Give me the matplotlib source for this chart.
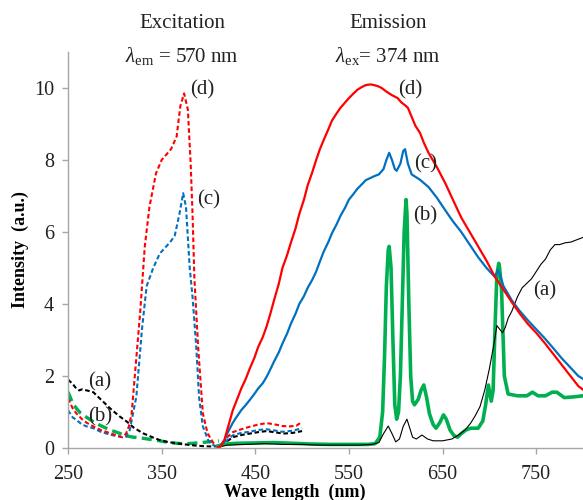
import matplotlib
matplotlib.use("Agg")
import matplotlib.pyplot as plt

plt.rcParams['font.family'] = ['Liberation Serif', 'DejaVu Serif']
plt.rcParams['mathtext.fontset'] = 'custom'
plt.rcParams['mathtext.rm'] = 'Liberation Serif'
plt.rcParams['mathtext.it'] = 'Liberation Serif:italic'

# ---------- Excitation spectra (dashed) ----------
exc_d_x = [250, 255, 259, 265, 270, 277, 285, 295, 302, 308, 312, 315, 318, 321, 327, 332, 337, 344, 350,
           355, 360, 366, 370, 374, 378, 381, 383, 385, 389, 394, 399, 405, 410, 415, 420, 426, 435, 444,
           453, 462, 470, 479, 487, 494, 500]
exc_d_y = [1.38, 1.1, 0.96, 0.8, 0.7, 0.6, 0.5, 0.41, 0.35, 0.3, 0.4, 0.6, 0.96, 1.9, 3.74, 5.6, 6.7, 7.63, 8.0,
           8.15, 8.3, 8.65, 9.5, 9.85, 9.4, 7.9, 6.5, 4.7, 2.8, 0.96, 0.41, 0.15, 0.05, 0.15, 0.3, 0.44, 0.52, 0.59,
           0.65, 0.69, 0.66, 0.61, 0.6, 0.62, 0.73]

exc_c_x = [250, 255, 259, 265, 270, 277, 285, 295, 302, 308, 312, 316, 319, 323, 329, 334, 341, 348, 355,
           360, 364, 369, 373, 376, 380, 383, 387, 390, 394, 400, 405, 410, 415, 420, 426, 435, 444, 453,
           462, 470, 479, 490, 500]
exc_c_y = [1.05, 0.85, 0.78, 0.65, 0.6, 0.55, 0.45, 0.37, 0.33, 0.3, 0.32, 0.5, 0.9, 1.43, 3.3, 4.5, 5.0, 5.4, 5.6,
           5.75, 5.9, 6.5, 7.08, 6.7, 5.0, 4.2, 2.8, 1.4, 0.6, 0.2, 0.08, 0.04, 0.12, 0.22, 0.35, 0.42, 0.45, 0.5,
           0.52, 0.49, 0.45, 0.48, 0.55]

exc_a_x = [250, 255, 258, 262, 265, 270, 277, 285, 295, 305, 313, 320, 330, 340, 348, 356, 366, 375, 385,
           395, 405, 412, 418, 426, 435, 444, 453, 462, 470, 480, 490, 500]
exc_a_y = [1.9, 1.78, 1.68, 1.6, 1.63, 1.6, 1.55, 1.35, 1.1, 0.88, 0.73, 0.57, 0.41, 0.3, 0.22, 0.17, 0.13, 0.1,
           0.07, 0.05, 0.04, 0.06, 0.15, 0.3, 0.36, 0.4, 0.44, 0.47, 0.44, 0.4, 0.42, 0.47]

exc_b_x = [250, 255, 259, 263, 270, 277, 285, 295, 305, 313, 320, 330, 340, 348, 356, 366, 375, 383, 392,
           400, 411]
exc_b_y = [1.56, 1.24, 1.1, 0.98, 0.85, 0.73, 0.62, 0.5, 0.41, 0.33, 0.3, 0.27, 0.23, 0.2, 0.16, 0.13, 0.12, 0.13,
           0.15, 0.17, 0.2]

# ---------- Emission spectra (solid) ----------
em_d_x = [410, 413, 417, 420, 426, 431, 435, 440, 444, 449, 453, 458, 462, 466, 470, 475, 479, 484, 488, 493,
          497, 502, 506, 511, 515, 519, 523, 528, 532, 537, 541, 546, 550, 555, 559, 564, 568, 573, 577,
          581, 585, 590, 596, 602, 606, 610, 613, 617, 621, 626, 630, 635, 644, 653, 661, 670, 679, 688,
          697, 706, 715, 724, 732, 741, 750, 759, 768, 777, 786, 795, 800]
em_d_y = [0.02, 0.05, 0.22, 0.5, 1.05, 1.38, 1.65, 1.93, 2.2, 2.5, 2.8, 3.08, 3.37, 3.72, 4.1, 4.55, 5.0, 5.36,
          5.7, 6.1, 6.5, 6.9, 7.3, 7.67, 8.0, 8.3, 8.55, 8.85, 9.1, 9.3, 9.45, 9.6, 9.72, 9.85, 9.95, 10.03, 10.08,
          10.1, 10.08, 10.05, 10.0, 9.9, 9.8, 9.72, 9.6, 9.52, 9.45, 9.2, 8.95, 8.75, 8.48, 8.2, 7.8, 7.35, 6.9,
          6.4, 6.0, 5.6, 5.2, 4.75, 4.4, 4.05, 3.75, 3.45, 3.2, 2.92, 2.62, 2.32, 2.02, 1.72, 1.62]

em_c_x = [410, 413, 417, 420, 426, 431, 435, 440, 444, 449, 453, 458, 462, 466, 470, 475, 479, 484, 488, 493,
          497, 502, 506, 511, 515, 519, 523, 528, 532, 537, 541, 546, 550, 555, 559, 564, 568, 573, 577,
          582, 587, 590, 593, 596, 599, 601, 605, 608, 610, 613, 617, 626, 635, 644, 653, 661, 670, 679,
          688, 697, 706, 709, 711, 715, 724, 732, 741, 750, 759, 768, 777, 786, 795, 800]
em_c_y = [0.02, 0.05, 0.2, 0.4, 0.7, 0.9, 1.05, 1.2, 1.33, 1.5, 1.65, 1.8, 1.97, 2.18, 2.4, 2.65, 2.9, 3.18,
          3.45, 3.73, 4.0, 4.22, 4.45, 4.68, 4.9, 5.18, 5.45, 5.72, 5.97, 6.22, 6.45, 6.68, 6.9, 7.06, 7.2, 7.33,
          7.44, 7.5, 7.55, 7.6, 7.75, 8.0, 8.2, 8.0, 7.75, 7.7, 7.9, 8.25, 8.3, 7.9, 7.6, 7.45, 7.25, 6.95, 6.6,
          6.3, 6.0, 5.65, 5.3, 5.0, 4.75, 4.95, 4.85, 4.5, 4.1, 3.82, 3.55, 3.3, 3.05, 2.78, 2.5, 2.25, 2.0, 1.92]

em_b_x = [410, 415, 430, 450, 470, 490, 510, 530, 550, 570, 578, 583, 586, 588, 590, 592, 593, 595, 597,
          599, 601, 603, 605, 607, 609, 611, 612, 614, 616, 618, 620, 624, 627, 630, 633, 636, 640, 643,
          647, 651, 654, 658, 662, 666, 670, 675, 680, 688, 693, 696, 699, 702, 704, 706, 708, 710, 711,
          713, 716, 720, 730, 740, 746, 752, 760, 767, 772, 780, 790, 800]
em_b_y = [0.05, 0.1, 0.13, 0.14, 0.15, 0.13, 0.11, 0.1, 0.1, 0.1, 0.12, 0.3, 1.0, 2.5, 4.5, 5.5, 5.6, 5.0, 3.0,
          1.2, 0.8, 1.0, 2.0, 4.0, 6.0, 6.9, 6.5, 4.0, 2.0, 1.3, 1.2, 1.35, 1.6, 1.75, 1.4, 0.95, 0.65, 0.55,
          0.7, 0.92, 0.8, 0.5, 0.35, 0.3, 0.4, 0.5, 0.55, 0.55, 0.75, 1.2, 1.75, 1.3, 1.6, 3.3, 4.8, 5.13, 5.0,
          4.4, 2.0, 1.5, 1.45, 1.45, 1.55, 1.45, 1.45, 1.55, 1.55, 1.4, 1.42, 1.45]

em_a_x = [410, 415, 420, 440, 460, 480, 500, 520, 540, 560, 575, 582, 587, 592, 596, 600, 604, 608, 612,
          615, 618, 622, 628, 634, 640, 650, 660, 667, 674, 680, 685, 690, 695, 700, 705, 708, 711, 714,
          717, 720, 724, 730, 735, 741, 745, 750, 755, 760, 765, 770, 775, 781, 787, 795, 800]
em_a_y = [0.0, 0.05, 0.08, 0.1, 0.12, 0.1, 0.1, 0.08, 0.08, 0.08, 0.1, 0.15, 0.4, 0.61, 0.4, 0.17, 0.25, 0.6,
          0.8, 0.55, 0.3, 0.25, 0.36, 0.25, 0.2, 0.2, 0.25, 0.36, 0.5, 0.69, 0.9, 1.15, 1.6, 2.2, 2.9, 3.4, 3.3,
          3.2, 3.35, 3.6, 3.8, 4.2, 4.45, 4.6, 4.7, 4.9, 5.1, 5.25, 5.5, 5.65, 5.65, 5.7, 5.72, 5.8, 5.85]

RED = '#FF0000'
BLUE = '#0070C0'
GREEN = '#00B050'
BLACK = '#000000'

fig = plt.figure(figsize=(5.83, 5.0), dpi=100)
ax = fig.add_axes([68 / 583, 52 / 500, 515 / 583, 396 / 500])

# excitation (dashed)
ax.plot(exc_b_x, exc_b_y, color=GREEN, lw=2.4, ls=(0, (3, 1.6)))
ax.plot(exc_a_x, exc_a_y, color=BLACK, lw=1.5, ls=(0, (2.2, 1.3)))
ax.plot(exc_c_x, exc_c_y, color=BLUE, lw=1.5, ls=(0, (2.2, 1.3)))
ax.plot(exc_d_x, exc_d_y, color=RED, lw=1.5, ls=(0, (2.2, 1.3)))

# emission (solid)
ax.plot(em_b_x, em_b_y, color=GREEN, lw=2.6)
ax.plot(em_a_x, em_a_y, color=BLACK, lw=0.8)
ax.plot(em_c_x, em_c_y, color=BLUE, lw=1.6)
ax.plot(em_d_x, em_d_y, color=RED, lw=1.6)

ax.set_xlim(250, 800)
ax.set_ylim(0, 11)
ax.set_xticks([250, 350, 450, 550, 650, 750])
ax.set_yticks([0, 2, 4, 6, 8, 10])
for s in ['top', 'right']:
    ax.spines[s].set_visible(False)
for s in ['left', 'bottom']:
    ax.spines[s].set_color('#a6a6a6')
    ax.spines[s].set_linewidth(1.0)
ax.tick_params(axis='both', colors='#a6a6a6', labelcolor='#222222', labelsize=14.5,
               length=4, width=1, direction='out')
ax.tick_params(axis='x', pad=8)
ax.tick_params(axis='y', pad=6)

fig.text(20 / 583, 1 - 250 / 500, 'Intensity  (a.u.)', fontsize=13, fontweight='bold',
         rotation=90, ha='center', va='center')
fig.text(295 / 583, 1 - 492 / 500, 'Wave length  (nm)', fontsize=13, fontweight='bold',
         ha='center', va='center')

# curve labels
lab_kw = dict(fontsize=15, ha='center', va='center', color='#222222')
ax.text(393.5, 9.94, '(d)', **lab_kw)
ax.text(400, 6.9, '(c)', **lab_kw)
ax.text(284, 1.83, '(a)', **lab_kw)
ax.text(284, 0.86, '(b)', **lab_kw)
ax.text(615, 9.94, '(d)', **lab_kw)
ax.text(632, 7.9, '(c)', **lab_kw)
ax.text(631, 6.45, '(b)', **lab_kw)
ax.text(759.5, 4.36, '(a)', **lab_kw)

# headers
fig.text(182 / 583, 1 - 24 / 500, 'Excitation', fontsize=15, ha='center', va='center', color='#222222')
fig.text(182 / 583, 1 - 56 / 500, r'$\lambda_{\rm em}$ = 570 nm', fontsize=15, ha='center', va='center',
         color='#222222')
fig.text(388 / 583, 1 - 24 / 500, 'Emission', fontsize=15, ha='center', va='center', color='#222222')
fig.text(388 / 583, 1 - 56 / 500, r'$\lambda_{\rm ex}$= 374 nm', fontsize=15, ha='center', va='center',
         color='#222222')

fig.savefig('out.png', dpi=100)
